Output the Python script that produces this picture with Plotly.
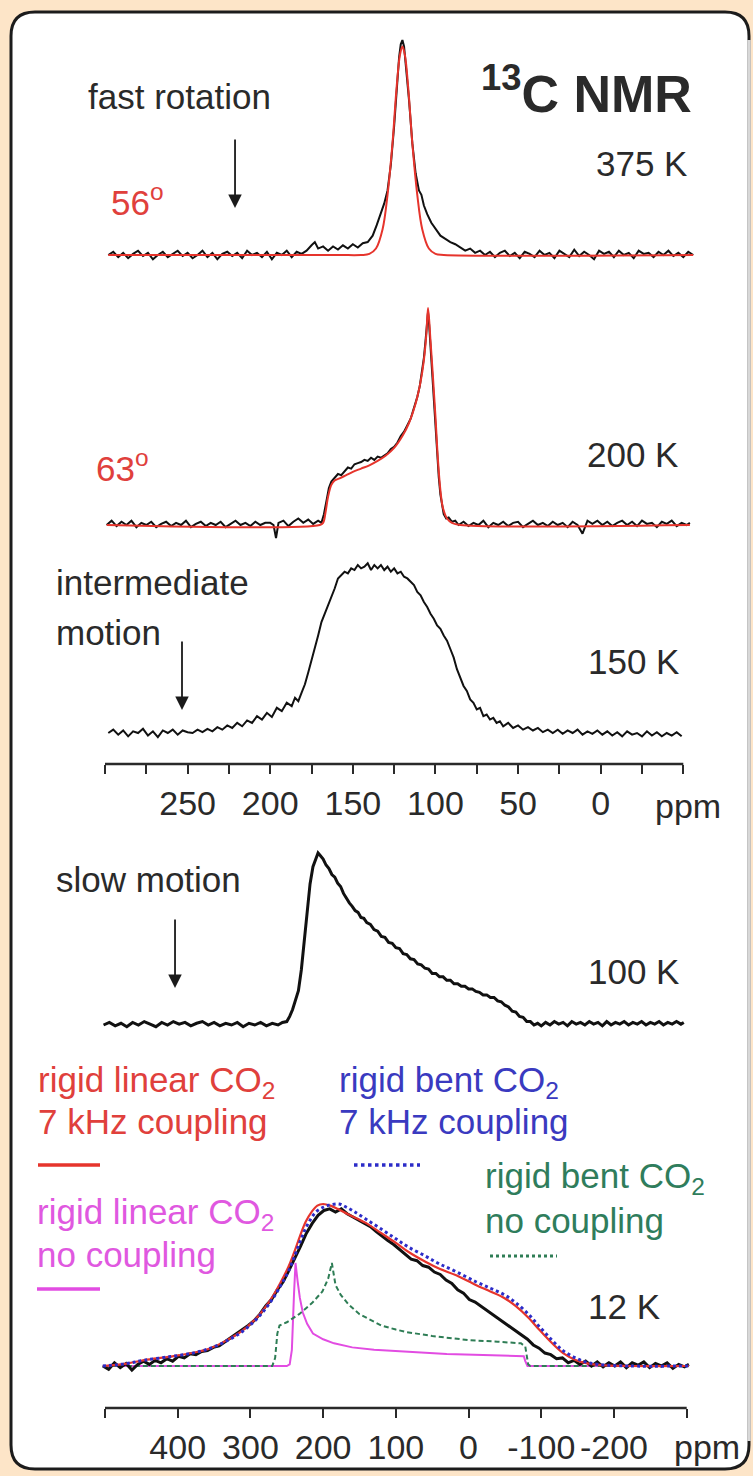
import plotly.graph_objects as go

W, H = 753, 1476
FONT = "Liberation Sans, Arial, Helvetica, sans-serif"

# ---------------- data (ppm, normalised intensity) ----------------
spec_375K_exp = [
    (298, 0.0), (295, 0.015), (292, -0.01), (289, 0.01), (286, -0.015), (283, 0.005), (280, 0.02),
    (277, -0.005), (274, 0.01), (271, -0.02), (268, 0.0), (265, 0.015), (262, -0.01), (259, 0.005),
    (256, 0.02), (253, -0.005), (250, 0.01), (247, -0.015), (244, 0.0), (241, 0.02), (238, -0.01),
    (235, 0.01), (232, -0.02), (229, 0.005), (226, 0.015), (223, -0.005), (220, 0.01), (217, -0.015),
    (214, 0.02), (211, 0.0), (208, 0.01), (205, -0.01), (202, 0.015), (199, -0.02), (196, 0.01),
    (193, 0.0), (190, 0.02), (187, -0.01), (184, 0.015), (181, 0.005), (178, 0.02), (175, 0.045),
    (173, 0.06), (171, 0.03), (168, 0.04), (165, 0.02), (162, 0.04), (159, 0.025), (156, 0.045),
    (153, 0.03), (150, 0.05), (147, 0.035), (144, 0.055), (141, 0.06), (138, 0.09), (135.5, 0.14),
    (133, 0.2), (131, 0.24), (129, 0.3), (127, 0.42), (125, 0.6), (123.5, 0.78), (122, 0.92),
    (121, 0.98), (120, 1.0), (119, 0.97), (117.5, 0.86), (116, 0.72), (114, 0.52), (112, 0.38),
    (110, 0.3), (108.5, 0.28), (107, 0.23), (105, 0.19), (102.5, 0.15), (100, 0.12), (97, 0.09),
    (94, 0.075), (91, 0.06), (88, 0.05), (85, 0.035), (82, 0.02), (79, 0.03), (76, 0.01), (73, 0.02),
    (70, 0.0), (67, 0.015), (64, -0.01), (61, 0.01), (58, 0.02), (55, -0.005), (52, 0.01), (49, -0.015),
    (46, 0.015), (43, 0.005), (40, -0.01), (37, 0.02), (34, 0.0), (31, 0.01), (28, -0.015), (25, 0.02),
    (22, 0.005), (19, -0.01), (16, 0.025), (13, -0.005), (10, 0.015), (7, 0.0), (4, -0.02), (1, 0.02),
    (-2, 0.005), (-5, 0.015), (-8, -0.01), (-11, 0.02), (-14, 0.0), (-17, 0.01), (-20, -0.015),
    (-23, 0.02), (-26, 0.005), (-29, 0.01), (-32, -0.01), (-35, 0.015), (-38, 0.0), (-41, 0.02),
    (-44, -0.005), (-47, 0.01), (-50, -0.01), (-53, 0.015), (-56, 0.0),
]
spec_375K_fit = [
    (298, 0.0), (160, 0.0), (145, 0.0), (140, 0.005), (136, 0.03), (132, 0.12), (129, 0.28),
    (126, 0.52), (123.5, 0.78), (121.5, 0.93), (120, 0.97), (118.5, 0.93), (116.5, 0.78),
    (114, 0.52), (111, 0.28), (108, 0.12), (104, 0.03), (100, 0.005), (95, 0.0), (-56, 0.0),
]

spec_200K_exp = [
    (299, 0.0), (296, 0.02), (293, -0.005), (290, 0.015), (287, 0.0), (284, 0.02), (281, -0.01),
    (278, 0.01), (275, 0.0), (272, 0.015), (269, -0.01), (266, 0.005), (263, 0.015), (260, -0.005),
    (257, 0.01), (254, 0.0), (251, 0.02), (248, -0.01), (245, 0.005), (242, 0.015), (239, -0.005),
    (236, 0.01), (233, 0.0), (230, 0.015), (227, -0.01), (224, 0.005), (221, 0.02), (218, 0.0),
    (215, 0.01), (212, -0.005), (209, 0.015), (206, 0.0), (203, 0.01), (200, 0.01), (198, 0.0),
    (196.5, -0.06), (195, 0.01), (192, 0.02), (189, -0.005), (186, 0.015), (183, 0.03), (180, 0.01),
    (177, 0.025), (174, 0.005), (171, 0.02), (169, 0.01), (167.5, 0.05), (166, 0.11), (164.5, 0.17),
    (163, 0.2), (161, 0.22), (159, 0.235), (157, 0.23), (155, 0.25), (153, 0.265), (151, 0.26),
    (149, 0.28), (147, 0.285), (145, 0.29), (143, 0.3), (141, 0.295), (139, 0.31), (137, 0.3),
    (135, 0.315), (133, 0.31), (131, 0.32), (129, 0.33), (127, 0.35), (125, 0.36), (123, 0.38),
    (121, 0.41), (119, 0.43), (117, 0.46), (115, 0.49), (113, 0.54), (111, 0.59), (109.5, 0.64),
    (108, 0.71), (107, 0.77), (106, 0.85), (105.2, 0.93), (104.5, 0.98), (103.8, 0.92), (103, 0.82),
    (102, 0.7), (101, 0.6), (100, 0.48), (99, 0.35), (98, 0.22), (97, 0.14), (96, 0.09), (95, 0.05),
    (93.5, 0.03), (92, 0.035), (90, 0.015), (88, 0.02), (86, 0.0), (83, 0.015), (80, -0.005),
    (77, 0.01), (74, 0.0), (71, 0.02), (68, -0.01), (65, 0.01), (62, 0.0), (59, 0.015), (56, -0.005),
    (53, 0.01), (50, 0.015), (47, -0.01), (44, 0.005), (41, 0.02), (38, 0.0), (35, 0.01), (32, -0.005),
    (29, 0.015), (26, 0.0), (23, 0.01), (20, -0.01), (17, 0.015), (14, 0.0), (11, -0.04), (8, 0.02),
    (5, 0.005), (2, 0.02), (-1, 0.0), (-4, 0.015), (-7, -0.005), (-10, 0.01), (-13, 0.02), (-16, 0.0),
    (-19, 0.015), (-22, -0.005), (-25, 0.02), (-28, 0.005), (-31, 0.01), (-34, -0.01), (-37, 0.015),
    (-40, 0.005), (-43, 0.02), (-46, -0.005), (-49, 0.01), (-52, 0.0), (-54, 0.01),
]
spec_200K_fit = [
    (299, 0.0), (170, 0.0), (168, 0.01), (166.5, 0.06), (165, 0.13), (163, 0.185), (161, 0.205),
    (158, 0.215), (154, 0.23), (150, 0.245), (145, 0.26), (140, 0.275), (135, 0.295), (130, 0.32),
    (125, 0.355), (120, 0.41), (116, 0.47), (112, 0.56), (109, 0.66), (107, 0.76), (105.5, 0.88),
    (104.5, 1.0), (103, 0.85), (101.5, 0.68), (100, 0.5), (98.5, 0.3), (97, 0.16), (95.5, 0.08),
    (93, 0.03), (90, 0.01), (85, 0.0), (-54, 0.0),
]

spec_150K_exp = [
    (298, 0.0), (295, 0.02), (292, -0.01), (289, 0.015), (286, -0.02), (283, 0.01), (280, 0.0),
    (277, 0.025), (274, -0.015), (271, 0.01), (268, -0.025), (265, 0.015), (262, 0.0), (259, 0.02),
    (256, -0.01), (253, 0.015), (250, 0.005), (247, 0.0), (244, 0.02), (241, 0.005), (238, 0.025),
    (235, 0.01), (232, 0.035), (229, 0.02), (226, 0.045), (223, 0.03), (220, 0.06), (217, 0.04),
    (214, 0.075), (211, 0.06), (208, 0.1), (205, 0.08), (202, 0.12), (199, 0.095), (196, 0.15),
    (193, 0.13), (190, 0.18), (187, 0.16), (185, 0.21), (183, 0.19), (181, 0.24), (179, 0.29),
    (177, 0.36), (175, 0.43), (173, 0.5), (171, 0.58), (169, 0.66), (167, 0.71), (165, 0.76),
    (163, 0.8), (161, 0.86), (159, 0.92), (157, 0.94), (155, 0.96), (153, 0.95), (151, 0.98),
    (149, 0.97), (147, 1.0), (145, 0.98), (143, 0.99), (141, 1.01), (139, 0.97), (137, 1.0),
    (135, 0.98), (133, 1.0), (131, 0.97), (129, 0.99), (127, 0.96), (125, 0.98), (123, 0.95),
    (121, 0.96), (119, 0.93), (117, 0.92), (115, 0.9), (113, 0.88), (111, 0.84), (109, 0.82),
    (107, 0.78), (105, 0.75), (103, 0.71), (101, 0.68), (99, 0.64), (97, 0.62), (95, 0.58),
    (93, 0.55), (91, 0.5), (89, 0.45), (87, 0.38), (85, 0.33), (83, 0.28), (81, 0.25), (79, 0.2),
    (77, 0.18), (75, 0.14), (73, 0.15), (71, 0.1), (69, 0.11), (67, 0.08), (65, 0.09), (63, 0.06),
    (61, 0.07), (59, 0.04), (56, 0.06), (53, 0.03), (50, 0.045), (47, 0.02), (44, 0.035), (41, 0.015),
    (38, 0.03), (35, 0.005), (32, 0.02), (29, 0.0), (26, 0.02), (23, -0.005), (20, 0.015), (17, 0.0),
    (14, 0.02), (11, -0.01), (8, 0.01), (5, -0.005), (2, 0.015), (-1, -0.01), (-4, 0.01), (-7, -0.015),
    (-10, 0.005), (-13, -0.02), (-16, 0.01), (-19, -0.01), (-22, 0.0), (-25, -0.02), (-28, 0.01),
    (-31, -0.015), (-34, 0.005), (-37, -0.02), (-40, 0.0), (-43, -0.015), (-46, 0.005), (-49, -0.02),
]

spec_100K_exp = [
    (502, 0.0), (494, 0.015), (486, -0.005), (478, 0.01), (470, -0.01), (462, 0.015), (454, 0.0),
    (446, 0.02), (438, 0.005), (430, -0.01), (422, 0.015), (414, 0.0), (406, 0.02), (398, 0.005),
    (390, 0.015), (382, -0.005), (374, 0.01), (366, 0.02), (358, 0.0), (350, 0.015), (342, -0.005),
    (334, 0.01), (326, 0.0), (318, 0.015), (310, -0.01), (302, 0.01), (294, 0.0), (286, 0.015),
    (278, -0.005), (270, 0.01), (262, 0.0), (256, 0.015), (250, 0.02), (246, 0.05), (242, 0.09),
    (238, 0.14), (234, 0.2), (230, 0.32), (226, 0.48), (222, 0.67), (218, 0.82), (214, 0.92),
    (210, 0.97), (207, 1.0), (204, 0.985), (200, 0.965), (196, 0.93), (192, 0.91), (188, 0.875),
    (184, 0.86), (180, 0.825), (176, 0.805), (172, 0.765), (168, 0.735), (164, 0.71), (160, 0.69),
    (156, 0.665), (152, 0.655), (148, 0.625), (144, 0.62), (140, 0.595), (135, 0.585), (130, 0.555),
    (125, 0.545), (120, 0.515), (115, 0.51), (110, 0.48), (105, 0.475), (100, 0.45), (95, 0.445),
    (90, 0.415), (85, 0.41), (80, 0.385), (75, 0.38), (70, 0.355), (65, 0.35), (60, 0.33), (55, 0.325),
    (50, 0.3), (45, 0.3), (40, 0.28), (35, 0.28), (30, 0.26), (25, 0.26), (20, 0.24), (15, 0.24),
    (10, 0.225), (5, 0.225), (0, 0.21), (-5, 0.21), (-10, 0.195), (-15, 0.19), (-20, 0.175),
    (-25, 0.175), (-30, 0.16), (-35, 0.16), (-40, 0.14), (-45, 0.135), (-50, 0.115), (-55, 0.105),
    (-60, 0.08), (-65, 0.075), (-70, 0.05), (-75, 0.045), (-80, 0.02), (-85, 0.02), (-90, 0.0),
    (-95, 0.01), (-100, -0.005), (-106, 0.015), (-112, 0.0), (-118, 0.02), (-124, 0.005), (-130, 0.015),
    (-136, -0.005), (-142, 0.02), (-148, 0.005), (-154, 0.015), (-160, 0.0), (-166, 0.02), (-172, 0.005),
    (-178, 0.015), (-184, -0.005), (-190, 0.02), (-196, 0.0), (-202, 0.015), (-208, 0.005), (-214, 0.02),
    (-220, 0.0), (-226, 0.015), (-232, 0.005), (-238, 0.02), (-244, 0.0), (-250, 0.015), (-256, 0.005),
    (-262, 0.02), (-268, 0.0), (-274, 0.015), (-280, 0.005), (-286, 0.02), (-292, 0.005), (-296, 0.015),
]

spec_12K_exp = [
    (503, 0.0), (495, -0.02), (487, 0.02), (479, -0.01), (471, 0.015), (463, -0.025), (455, 0.01),
    (447, 0.03), (439, 0.01), (431, 0.035), (423, 0.02), (415, 0.045), (407, 0.03), (399, 0.06),
    (391, 0.05), (383, 0.075), (375, 0.07), (367, 0.09), (359, 0.095), (351, 0.115), (343, 0.125),
    (335, 0.15), (327, 0.17), (319, 0.2), (311, 0.22), (303, 0.25), (295, 0.28), (287, 0.32),
    (279, 0.37), (271, 0.41), (263, 0.47), (255, 0.52), (247, 0.59), (239, 0.66), (231, 0.74),
    (223, 0.82), (215, 0.88), (207, 0.93), (199, 0.96), (191, 0.97), (183, 0.95), (175, 0.97),
    (167, 0.94), (159, 0.92), (151, 0.9), (143, 0.88), (135, 0.86), (127, 0.83), (119, 0.8),
    (111, 0.775), (103, 0.75), (95, 0.72), (87, 0.69), (79, 0.66), (71, 0.65), (63, 0.62), (55, 0.61),
    (47, 0.58), (39, 0.565), (31, 0.53), (23, 0.51), (15, 0.47), (7, 0.45), (-1, 0.41), (-9, 0.395),
    (-17, 0.37), (-25, 0.34), (-33, 0.32), (-41, 0.29), (-49, 0.27), (-57, 0.24), (-65, 0.22),
    (-73, 0.19), (-81, 0.165), (-89, 0.13), (-97, 0.11), (-105, 0.08), (-113, 0.07), (-121, 0.045),
    (-129, 0.05), (-137, 0.02), (-145, 0.035), (-153, 0.01), (-161, 0.03), (-169, 0.0), (-177, 0.025),
    (-185, -0.005), (-193, 0.02), (-201, 0.0), (-209, 0.025), (-217, -0.01), (-225, 0.02), (-233, 0.005),
    (-241, 0.025), (-249, -0.01), (-257, 0.015), (-265, 0.0), (-273, 0.02), (-281, -0.015), (-289, 0.01),
    (-297, -0.005), (-303, 0.01),
]
spec_12K_linear_7kHz = [
    (503, 0.0), (470, 0.015), (446, 0.036), (410, 0.058), (380, 0.08), (355, 0.11), (334, 0.155),
    (312, 0.215), (294, 0.285), (280, 0.36), (268, 0.44), (258, 0.52), (248, 0.61), (240, 0.7),
    (232, 0.8), (224, 0.89), (216, 0.95), (208, 0.99), (200, 1.0), (190, 0.99), (180, 0.97),
    (165, 0.935), (142, 0.885), (120, 0.82), (100, 0.76), (83, 0.705), (60, 0.645), (40, 0.6),
    (17, 0.56), (-10, 0.5), (-30, 0.46), (-49, 0.42), (-65, 0.37), (-82, 0.3), (-98, 0.22),
    (-115, 0.14), (-130, 0.08), (-148, 0.036), (-165, 0.015), (-188, 0.004), (-220, 0.0), (-303, 0.0),
]
spec_12K_bent_7kHz = [
    (503, 0.0), (470, 0.015), (446, 0.036), (410, 0.058), (380, 0.079), (355, 0.11), (334, 0.152),
    (312, 0.21), (294, 0.279), (280, 0.35), (268, 0.424), (258, 0.5), (248, 0.582), (240, 0.67),
    (232, 0.764), (225, 0.84), (218, 0.9), (210, 0.95), (200, 0.98), (190, 0.995), (178, 1.0),
    (168, 0.98), (158, 0.955), (142, 0.909), (120, 0.845), (100, 0.785), (83, 0.735), (60, 0.68),
    (40, 0.63), (17, 0.582), (-10, 0.52), (-30, 0.48), (-49, 0.44), (-65, 0.39), (-82, 0.321),
    (-98, 0.24), (-115, 0.158), (-130, 0.095), (-148, 0.048), (-165, 0.02), (-188, 0.006),
    (-220, 0.0), (-303, 0.0),
]
spec_12K_linear_nocoup = [
    (503, 0.0), (250, 0.0), (246, 0.01), (243, 0.1), (240, 0.45), (238, 0.636), (235, 0.52),
    (232, 0.42), (228, 0.33), (222, 0.26), (214, 0.2), (200, 0.165), (185, 0.14), (160, 0.115),
    (130, 0.1), (80, 0.085), (30, 0.074), (-20, 0.068), (-72, 0.062), (-76, 0.06), (-78, 0.03),
    (-81, 0.0), (-303, 0.0),
]
spec_12K_bent_nocoup = [
    (503, 0.0), (270, 0.0), (266, 0.05), (263, 0.2), (260, 0.25), (250, 0.27), (233, 0.32),
    (215, 0.39), (201, 0.46), (193, 0.54), (188, 0.636), (183, 0.5), (176, 0.44), (165, 0.38),
    (150, 0.32), (138, 0.29), (120, 0.25), (100, 0.225), (86, 0.21), (50, 0.185), (0, 0.16),
    (-40, 0.15), (-72, 0.14), (-78, 0.12), (-82, 0.01), (-85, 0.0), (-303, 0.0),
]

upper_ticks = [300, 275, 250, 225, 200, 175, 150, 125, 100, 75, 50, 25, 0, -25, -50]
upper_labels = ["", "", "250", "", "200", "", "150", "", "100", "", "50", "", "0", "", ""]
lower_ticks = [500, 400, 300, 200, 100, 0, -100, -200, -300]
lower_labels = ["", "400", "300", "200", "100", "0", "-100", "-200", ""]
unit_label = "ppm"

# ---------------- styling / layout constants ----------------
BG = "#fde5c8"
INK = "#2a2a2a"
RED = "#e6342c"
BLUE = "#2c2cc8"
GREEN = "#2e7d55"
MAGENTA = "#e24ce2"
RED_T = "#e0403c"
BLUE_T = "#3a3ac0"
GREEN_T = "#2f7d5c"
MAG_T = "#e058e0"


def px(x):
    return x / W


def py(y):
    return 1 - y / H


# upper axis: 300 ppm at x=105, -50 ppm at x=683.3
U0, U1 = 105.0, 683.3
u_scale = (U1 - U0) / 350.0
U_dom = (96.0, 700.0)
u_range = [300 + (U0 - U_dom[0]) / u_scale, -50 - (U_dom[1] - U1) / u_scale]
# lower axis: 500 ppm at x=105, -300 ppm at x=686.7
L0, L1 = 105.0, 686.7
l_scale = (L1 - L0) / 800.0
L_dom = (96.0, 700.0)
l_range = [500 + (L0 - L_dom[0]) / l_scale, -300 - (L_dom[1] - L1) / l_scale]

AX_U_Y = 764
AX_L_Y = 1408

# spectra baselines / peak heights in pixels
panels = [
    ("y", 255, 40, "x"),
    ("y2", 525, 308, "x"),
    ("y3", 733, 565, "x"),
    ("y4", 1025, 853, "x2"),
    ("y5", 1366, 1204, "x2"),
]
R0, R1 = -0.12, 1.1

fig = go.Figure()


def add(spec, xa, ya, color, width, dash="solid", shape="linear"):
    fig.add_trace(go.Scatter(
        x=[p for p, _ in spec], y=[v for _, v in spec], xaxis=xa, yaxis=ya,
        mode="lines", line=dict(color=color, width=width, dash=dash, shape=shape),
        hoverinfo="skip", showlegend=False,
    ))


add(spec_375K_exp, "x", "y", "#111111", 2)
add(spec_375K_fit, "x", "y", RED, 2, shape="spline")
add(spec_200K_exp, "x", "y2", "#111111", 2)
add(spec_200K_fit, "x", "y2", RED, 2, shape="spline")
add(spec_150K_exp, "x", "y3", "#111111", 2)
add(spec_100K_exp, "x2", "y4", "#111111", 3)
add(spec_12K_linear_nocoup, "x2", "y5", MAGENTA, 2)
add(spec_12K_bent_nocoup, "x2", "y5", GREEN, 2, dash="5px,3px")
add(spec_12K_exp, "x2", "y5", "#111111", 3)
add(spec_12K_linear_7kHz, "x2", "y5", RED, 2.2, shape="spline")
add(spec_12K_bent_7kHz, "x2", "y5", BLUE, 3, dash="dot", shape="spline")

layout = dict(
    width=W, height=H, margin=dict(l=0, r=0, t=0, b=0),
    paper_bgcolor=BG, plot_bgcolor="rgba(0,0,0,0)",
    showlegend=False,
)

tickfont = dict(family=FONT, size=34, color=INK)
layout["xaxis"] = dict(
    domain=[px(U_dom[0]), px(U_dom[1])], range=u_range, anchor="free", position=py(AX_U_Y),
    showline=False, showgrid=False, zeroline=False, ticks="outside", ticklen=9, tickwidth=2,
    tickcolor=INK, tickmode="array", tickvals=upper_ticks, ticktext=upper_labels,
    tickfont=tickfont, fixedrange=True,
)
layout["xaxis2"] = dict(
    domain=[px(L_dom[0]), px(L_dom[1])], range=l_range, anchor="free", position=py(AX_L_Y),
    showline=False, showgrid=False, zeroline=False, ticks="outside", ticklen=9, tickwidth=2,
    tickcolor=INK, tickmode="array", tickvals=lower_ticks, ticktext=lower_labels,
    tickfont=tickfont, fixedrange=True,
)
for name, b, p, xa in panels:
    h = b - p
    top = b - R1 * h
    bot = b - R0 * h
    key = "yaxis" if name == "y" else "yaxis" + name[1:]
    layout[key] = dict(domain=[py(bot), py(top)], range=[R0, R1], visible=False,
                       anchor=xa, fixedrange=True)

# rounded white panel
x0, x1, y0, y1, r = 11, 749, 12, 1469, 24
path = (
    f"M {px(x0 + r)},{py(y0)} L {px(x1 - r)},{py(y0)} Q {px(x1)},{py(y0)} {px(x1)},{py(y0 + r)} "
    f"L {px(x1)},{py(y1 - r)} Q {px(x1)},{py(y1)} {px(x1 - r)},{py(y1)} "
    f"L {px(x0 + r)},{py(y1)} Q {px(x0)},{py(y1)} {px(x0)},{py(y1 - r)} "
    f"L {px(x0)},{py(y0 + r)} Q {px(x0)},{py(y0)} {px(x0 + r)},{py(y0)} Z"
)
shapes = [
    dict(type="path", path=path, xref="paper", yref="paper", fillcolor="white",
         line=dict(color="#1c1c1c", width=3), layer="below"),
    dict(type="line", xref="paper", yref="paper", x0=px(x1), x1=px(x1), y0=py(y0 + r + 4),
         y1=py(y1 - r - 4), line=dict(color="#d8d8d8", width=3.5), layer="below"),
    # axis lines
    dict(type="line", xref="x", yref="paper", x0=300, x1=-50, y0=py(AX_U_Y), y1=py(AX_U_Y),
         line=dict(color=INK, width=2.5)),
    dict(type="line", xref="x2", yref="paper", x0=500, x1=-300, y0=py(AX_L_Y), y1=py(AX_L_Y),
         line=dict(color=INK, width=2.5)),
    # legend swatches
    dict(type="line", xref="paper", yref="paper", x0=px(38), x1=px(100), y0=py(1165), y1=py(1165),
         line=dict(color=RED, width=3.5)),
    dict(type="line", xref="paper", yref="paper", x0=px(354), x1=px(420), y0=py(1165), y1=py(1165),
         line=dict(color=BLUE, width=3.5, dash="dot")),
    dict(type="line", xref="paper", yref="paper", x0=px(490), x1=px(557), y0=py(1256), y1=py(1256),
         line=dict(color=GREEN, width=3, dash="dot")),
    dict(type="line", xref="paper", yref="paper", x0=px(37), x1=px(100), y0=py(1289), y1=py(1289),
         line=dict(color=MAGENTA, width=3.5)),
]
layout["shapes"] = shapes

annotations = []


def text(t, x, y, color=INK, size=35, anchor="left"):
    annotations.append(dict(
        text=t, x=px(x), y=py(y), xref="paper", yref="paper", xanchor=anchor, yanchor="middle",
        showarrow=False, font=dict(family=FONT, size=size, color=color),
    ))


def arrow(xref, xval, y_tip, length=70):
    annotations.append(dict(
        text="", x=xval, y=py(y_tip), xref=xref, yref="paper", showarrow=True, ax=0, ay=-length,
        arrowhead=2, arrowsize=1.5, arrowwidth=1.8, arrowcolor="#1a1a1a",
    ))


text("fast rotation", 86, 96)
text("<b><sup>13</sup>C NMR</b>", 694, 90, size=52, anchor="right")
text("375 K", 594, 163.5)
text("56<sup>o</sup>", 109, 200, color=RED_T)
text("63<sup>o</sup>", 94, 466, color=RED_T)
text("200 K", 585, 455)
text("intermediate", 54, 583)
text("motion", 54, 632)
text("150 K", 586, 661)
text("slow motion", 54, 879)
text("100 K", 586, 971)
text("rigid linear CO<sub>2</sub>", 36, 1082, color=RED_T)
text("7 kHz coupling", 36, 1121, color=RED_T)
text("rigid bent CO<sub>2</sub>", 337, 1082, color=BLUE_T)
text("7 kHz coupling", 337, 1121, color=BLUE_T)
text("rigid bent CO<sub>2</sub>", 483, 1178, color=GREEN_T)
text("no coupling", 483, 1220, color=GREEN_T)
text("rigid linear CO<sub>2</sub>", 35, 1214, color=MAG_T)
text("no coupling", 35, 1254, color=MAG_T)
text("12 K", 586, 1306)

# unit labels beside the last tick of each axis
text(unit_label, 688, 806, size=34, anchor="center")
text(unit_label, 707, 1447, size=34, anchor="center")

arrow("x", 221.3, 208)
arrow("x", 253.4, 710)
arrow("x2", 403.7, 988)

layout["annotations"] = annotations
fig.update_layout(**layout)

# remove the default page margin so the figure sits at the window origin
page_js = ("document.body.style.margin='0';document.body.style.padding='0';"
           "document.body.style.background='" + BG + "';"
           "document.documentElement.style.overflow='hidden';")
fig.write_html("out.html", post_script=page_js, config={"displayModeBar": False})
